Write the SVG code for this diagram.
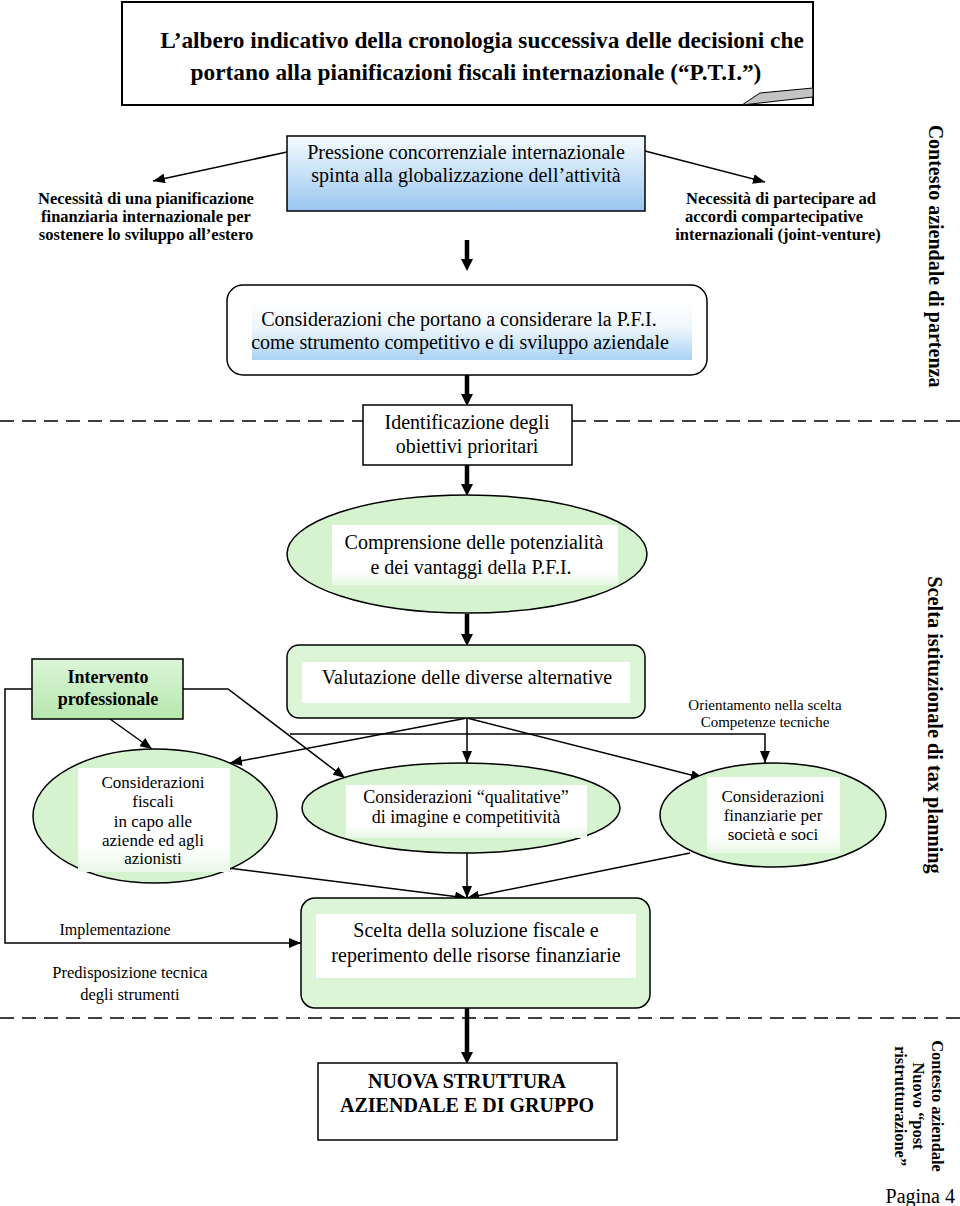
<svg xmlns="http://www.w3.org/2000/svg" width="960" height="1206" viewBox="0 0 960 1206">
<style>
text{font-family:"Liberation Serif","Times New Roman",serif;fill:#000}
.t{font-size:20px;text-anchor:middle}
.tb{font-size:16.5px;font-weight:bold;text-anchor:middle}
.s{font-size:17px;text-anchor:middle}
.box{stroke:#000;stroke-width:1.5}
.ln{fill:none;stroke:#000;stroke-width:1.5}
.th{fill:none;stroke:#000;stroke-width:4.5}
.dash{fill:none;stroke:#000;stroke-width:1.5;stroke-dasharray:14 8}
</style>
<defs>
<linearGradient id="gBlue" x1="0" y1="0" x2="0" y2="1"><stop offset="0" stop-color="#f6fbff"/><stop offset="1" stop-color="#98c6f0"/></linearGradient>
<linearGradient id="gBlue2" x1="0" y1="0" x2="0" y2="1"><stop offset="0" stop-color="#ffffff"/><stop offset="0.45" stop-color="#eef6fd"/><stop offset="1" stop-color="#a9d2f4"/></linearGradient>
<linearGradient id="gGreen" x1="0" y1="0" x2="0" y2="1"><stop offset="0" stop-color="#dcf5d7"/><stop offset="1" stop-color="#b6e7ae"/></linearGradient>
<linearGradient id="gWhite" x1="0" y1="0" x2="0" y2="1"><stop offset="0" stop-color="#ffffff"/><stop offset="0.75" stop-color="#ffffff"/><stop offset="1" stop-color="#e8f8e5"/></linearGradient>
<marker id="ah" viewBox="0 0 12 10" refX="12" refY="5" markerWidth="12" markerHeight="10" markerUnits="userSpaceOnUse" orient="auto"><path d="M0,0 L12,5 L0,10 z" fill="#000"/></marker>
<marker id="ahT" viewBox="0 0 12 12" refX="0" refY="6" markerWidth="12" markerHeight="12" markerUnits="userSpaceOnUse" orient="auto"><path d="M0,0 L12,6 L0,12 z" fill="#000"/></marker>
</defs>
<rect width="960" height="1206" fill="#fff"/>

<g id="separators">
<line class="dash" x1="0" y1="421" x2="960" y2="421"/>
<line class="dash" x1="0" y1="1018" x2="960" y2="1018"/>
</g>

<g id="connectors">
<line class="ln" x1="287" y1="152" x2="153" y2="181" marker-end="url(#ah)"/>
<line class="ln" x1="645" y1="151" x2="765" y2="182" marker-end="url(#ah)"/>
<line class="th" x1="467" y1="240" x2="467" y2="259" marker-end="url(#ahT)"/>
<line class="th" x1="467" y1="375" x2="467" y2="394" marker-end="url(#ahT)"/>
<line class="th" x1="467" y1="465" x2="467" y2="484" marker-end="url(#ahT)"/>
<line class="th" x1="467" y1="614" x2="467" y2="634" marker-end="url(#ahT)"/>
<line class="ln" x1="467" y1="718" x2="230" y2="763" marker-end="url(#ah)"/>
<line class="ln" x1="467" y1="718" x2="467" y2="763" marker-end="url(#ah)"/>
<line class="ln" x1="467" y1="718" x2="703" y2="778" marker-end="url(#ah)"/>
<line class="ln" x1="110" y1="719" x2="152" y2="749" marker-end="url(#ah)"/>
<polyline class="ln" points="183,689 228,689 345,778" marker-end="url(#ah)"/>
<polyline class="ln" points="290,734 765,734 765,763" marker-end="url(#ah)"/>
<line class="ln" x1="228" y1="868" x2="467" y2="898" marker-end="url(#ah)"/>
<line class="ln" x1="467" y1="853" x2="467" y2="898" marker-end="url(#ah)"/>
<line class="ln" x1="690" y1="853" x2="467" y2="898" marker-end="url(#ah)"/>
<polyline class="ln" points="33,689 5,689 5,943 301,943" marker-end="url(#ah)"/>
<line class="th" x1="467" y1="1008" x2="467" y2="1052" marker-end="url(#ahT)"/>
</g>

<g id="title">
<rect x="122" y="2" width="691" height="103" fill="#fff" stroke="#000" stroke-width="2"/>
<polygon points="742,105 760,93 813,88 813,97" fill="#c4c4c4" stroke="#000" stroke-width="1"/>
<text x="482" y="48" style="font-size:23.3px;font-weight:bold;text-anchor:middle">L’albero indicativo della cronologia successiva delle decisioni che</text>
<text x="476" y="80" style="font-size:23.3px;font-weight:bold;text-anchor:middle">portano alla pianificazioni fiscali internazionale (“P.T.I.”)</text>
</g>

<g id="pressione">
<rect class="box" x="287" y="136" width="358" height="75" fill="url(#gBlue)"/>
<text class="t" x="466" y="159">Pressione concorrenziale internazionale</text>
<text class="t" x="466" y="182">spinta alla globalizzazione dell’attività</text>
</g>

<g id="necessita-pianificazione">
<text class="tb" x="146" y="204">Necessità di una pianificazione</text>
<text class="tb" x="146" y="222">finanziaria internazionale per</text>
<text class="tb" x="146" y="240">sostenere lo sviluppo all’estero</text>
</g>

<g id="necessita-partecipare">
<text class="tb" x="781" y="204">Necessità di partecipare ad</text>
<text class="tb" x="774" y="222">accordi compartecipative</text>
<text class="tb" x="778" y="240">internazionali (joint-venture)</text>
</g>

<g id="considerazioni-pfi">
<rect class="box" x="227" y="285" width="480" height="90" rx="16" fill="#fff"/>
<rect x="252" y="302" width="440" height="58" fill="url(#gBlue2)"/>
<text class="t" x="459" y="326">Considerazioni che portano a considerare la P.F.I.</text>
<text class="t" x="460" y="349">come strumento competitivo e di sviluppo aziendale</text>
</g>

<g id="identificazione">
<rect class="box" x="363" y="405" width="209" height="60" fill="#fff"/>
<text class="t" x="467" y="429">Identificazione degli</text>
<text class="t" x="467" y="453">obiettivi prioritari</text>
</g>

<g id="comprensione">
<ellipse class="box" cx="467" cy="554" rx="180" ry="59" fill="#d6f3d0"/>
<rect x="332" y="525" width="286" height="60" fill="url(#gWhite)"/>
<text class="t" x="474" y="549">Comprensione delle potenzialità</text>
<text class="t" x="471" y="574">e dei vantaggi della P.F.I.</text>
</g>

<g id="valutazione">
<rect class="box" x="287" y="645" width="358" height="73" rx="12" fill="#dcf5d7"/>
<rect x="302" y="662" width="328" height="41" fill="#fff"/>
<text class="t" x="467" y="684">Valutazione delle diverse alternative</text>
</g>

<g id="intervento">
<rect class="box" x="32" y="659" width="151" height="60" fill="url(#gGreen)"/>
<text x="108" y="683" style="font-size:18px;font-weight:bold;text-anchor:middle">Intervento</text>
<text x="108" y="705" style="font-size:18px;font-weight:bold;text-anchor:middle">professionale</text>
</g>

<g id="considerazioni-fiscali">
<ellipse class="box" cx="155" cy="816" rx="122" ry="67" fill="#d6f3d0"/>
<rect x="78" y="768" width="152" height="104" fill="url(#gWhite)"/>
<text class="s" x="153" y="788">Considerazioni</text>
<text class="s" x="153" y="807">fiscali</text>
<text class="s" x="153" y="827">in capo alle</text>
<text class="s" x="153" y="846">aziende ed agli</text>
<text class="s" x="153" y="864">azionisti</text>
</g>

<g id="considerazioni-qualitative">
<ellipse class="box" cx="461" cy="808" rx="159" ry="45" fill="#d6f3d0"/>
<rect x="346" y="785" width="241" height="53" fill="url(#gWhite)"/>
<text x="466" y="803" style="font-size:18px;text-anchor:middle">Considerazioni “qualitative”</text>
<text x="466" y="823" style="font-size:18px;text-anchor:middle">di imagine e competitività</text>
</g>

<g id="orientamento">
<text x="765" y="710" style="font-size:15px;text-anchor:middle">Orientamento nella scelta</text>
<text x="765" y="727" style="font-size:15px;text-anchor:middle">Competenze tecniche</text>
</g>

<g id="considerazioni-finanziarie">
<ellipse class="box" cx="773" cy="815" rx="113" ry="52" fill="#d6f3d0"/>
<rect x="707" y="777" width="133" height="76" fill="url(#gWhite)"/>
<text class="s" x="773" y="802">Considerazioni</text>
<text class="s" x="773" y="821">finanziarie per</text>
<text class="s" x="773" y="840">società e soci</text>
</g>

<g id="implementazione">
<text x="115" y="935" style="font-size:16px;text-anchor:middle">Implementazione</text>
<text x="130" y="978" style="font-size:16.5px;text-anchor:middle">Predisposizione tecnica</text>
<text x="130" y="1000" style="font-size:16.5px;text-anchor:middle">degli strumenti</text>
</g>

<g id="scelta">
<rect class="box" x="301" y="898" width="349" height="110" rx="14" fill="#dcf5d7"/>
<rect x="316" y="914" width="320" height="64" fill="#fff"/>
<text class="t" x="476" y="937">Scelta della soluzione fiscale e</text>
<text class="t" x="476" y="962">reperimento delle risorse finanziarie</text>
</g>

<g id="nuova-struttura">
<rect class="box" x="318" y="1063" width="299" height="77" fill="#fff"/>
<text x="467" y="1088" style="font-size:20px;font-weight:bold;text-anchor:middle">NUOVA STRUTTURA</text>
<text x="467" y="1112" style="font-size:20px;font-weight:bold;text-anchor:middle">AZIENDALE E DI GRUPPO</text>
</g>

<g id="side-labels">
<text transform="translate(929,256) rotate(90)" style="font-size:20px;font-weight:bold;text-anchor:middle">Contesto aziendale di partenza</text>
<text transform="translate(928,725) rotate(90)" style="font-size:20.3px;font-weight:bold;text-anchor:middle">Scelta istituzionale di tax planning</text>
<text transform="translate(932,1106) rotate(90)" style="font-size:16.4px;font-weight:bold;text-anchor:middle">Contesto aziendale</text>
<text transform="translate(913,1106) rotate(90)" style="font-size:16.4px;font-weight:bold;text-anchor:middle">Nuovo “post</text>
<text transform="translate(895,1106) rotate(90)" style="font-size:16.4px;font-weight:bold;text-anchor:middle">ristrutturazione”</text>
<text x="955" y="1203" style="font-size:20px;text-anchor:end">Pagina 4</text>
</g>
</svg>
